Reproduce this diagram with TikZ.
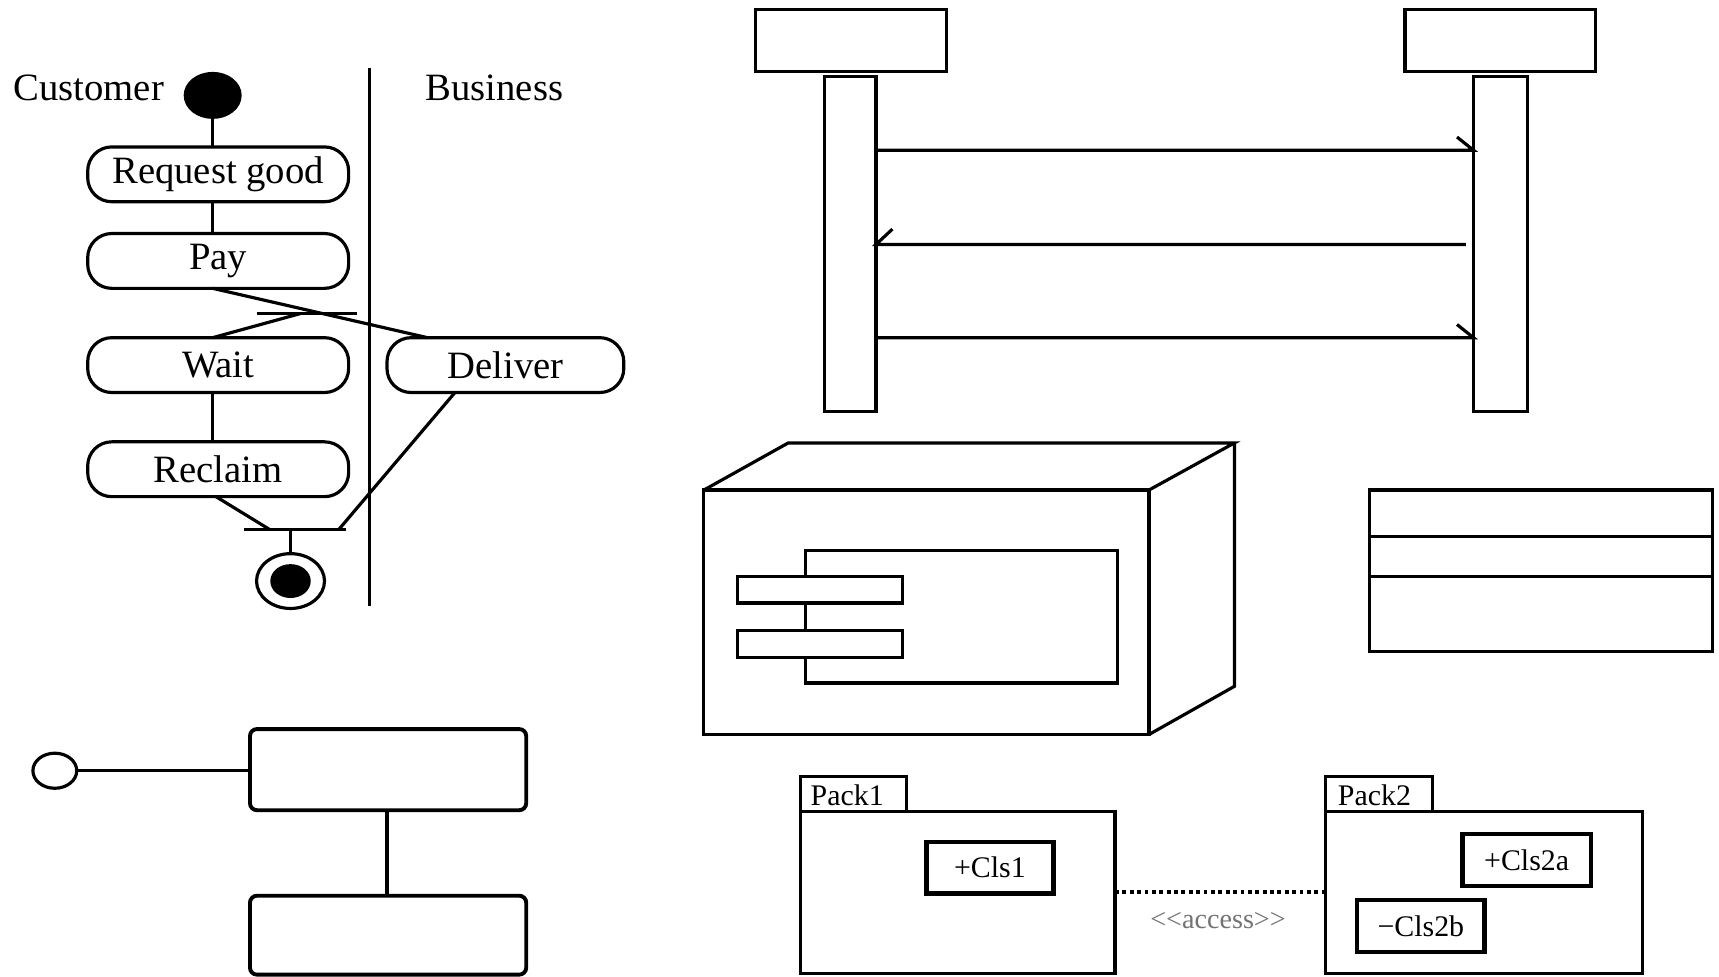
\documentclass[tikz,border=0pt]{standalone}
\usepackage{fontspec}
\setmainfont{Liberation Serif}
\usetikzlibrary{shapes.geometric,calc}
\def\pxu{0.010963cm}
\begin{document}
\begin{tikzpicture}[x=0.010963cm,y=-0.010963cm,line width=0.9pt,
  act/.style={draw,rounded corners=0.24cm,minimum height=50*\pxu,inner sep=0pt,outer sep=0pt,font=\fontsize{11}{12}\selectfont},
  lab/.style={inner sep=0pt,font=\fontsize{11}{12}\selectfont},
  plain/.style={draw,inner sep=0pt,outer sep=0pt},
  rbox/.style={draw,rounded corners=0.07cm,inner sep=0pt,outer sep=0pt,line width=1.1pt},
  small/.style={inner sep=0pt,font=\fontsize{8.5}{9}\selectfont},
  clsbox/.style={draw,inner sep=0pt,outer sep=0pt,line width=1.2pt,minimum width=116*\pxu,minimum height=47*\pxu,font=\fontsize{8.5}{9}\selectfont}]
\useasboundingbox (0,0) rectangle (1568,891);

% ---------------- activity diagram ----------------
\node[lab] (cust) at (81,80) {Customer};
\node[lab] (bus) at (451,80) {Business};
\node[draw,fill=black,ellipse,minimum width=50*\pxu,minimum height=40*\pxu,inner sep=0pt,outer sep=0pt] (start) at (194,87) {};
\node[act,minimum width=238*\pxu] (req) at (199,159) {Request good};
\node[act,minimum width=238*\pxu] (pay) at (199,238) {Pay};
\node[act,minimum width=238*\pxu] (wait) at (199,333) {Wait};
\node[act,minimum width=216*\pxu] (deliver) at (461,333) {Deliver};
\node[act,minimum width=238*\pxu] (reclaim) at (199,428) {Reclaim};
\node[draw,ellipse,minimum width=62*\pxu,minimum height=50*\pxu,inner sep=0pt,outer sep=0pt] (endo) at (265,530) {};
\node[draw,fill=black,ellipse,minimum width=34*\pxu,minimum height=28*\pxu,inner sep=0pt] (endi) at (265,530) {};

\coordinate (laneT) at (337,62);
\coordinate (laneB) at (337,553);
\draw (laneT) -- (laneB);

\coordinate (forkL) at (234,286);
\coordinate (forkR) at (326,286);
\coordinate (forkP) at (274,286);
\coordinate (joinL) at (223,483);
\coordinate (joinR) at (316,483);
\coordinate (joinP) at (265,483);

\draw (start.south) -- (start.south |- req.north);
\draw (req.south -| start) -- (pay.north -| start);
\draw (forkL) -- (forkR);
\draw (pay.south -| start) -- ($(deliver.north west)+(37,0)$);
\draw (wait.north -| start) -- (forkP);
\draw (wait.south -| start) -- (reclaim.north -| start);
\draw (joinL) -- (joinR);
\draw ($(reclaim.south)+(-2,0)$) -- (246,483);
\draw ($(deliver.south west)+(62,0)$) -- (309,483);
\draw (joinP) -- (endo.north);

% ---------------- interface / boxes ----------------
\node[draw,ellipse,minimum width=40*\pxu,minimum height=32*\pxu,inner sep=0pt,outer sep=0pt] (iface) at (50,703) {};
\node[rbox,minimum width=252*\pxu,minimum height=74*\pxu] (boxA) at (354,702) {};
\node[rbox,minimum width=252*\pxu,minimum height=72*\pxu] (boxB) at (354,853) {};
\draw (iface.east) -- (iface.east -| boxA.west);
\draw (boxA.south -| 353,0) -- (boxB.north -| 353,0);

% ---------------- sequence diagram ----------------
\node[plain,minimum width=174*\pxu,minimum height=56*\pxu] (headL) at (776,37) {};
\node[plain,minimum width=174*\pxu,minimum height=56*\pxu] (headR) at (1368.5,37) {};
\node[plain,minimum width=47*\pxu,minimum height=305*\pxu] (barL) at (775.5,222.5) {};
\node[plain,minimum width=49*\pxu,minimum height=305*\pxu] (barR) at (1368.5,222.5) {};
\coordinate (y1) at (0,137);
\coordinate (y2) at (0,223);
\coordinate (y3) at (0,308);
\draw (barL.east |- y1) -- (barR.west |- y1) -- ++(-15,-12);
\draw ($(barR.west |- y2)+(-7,0)$) -- (barL.east |- y2) -- ++(15,-14);
\draw (barL.east |- y3) -- (barR.west |- y3) -- ++(-15,-12);

% ---------------- deployment node ----------------
\node[plain,minimum width=406*\pxu,minimum height=223*\pxu] (front) at (845,558.5) {};
\coordinate (tbl) at (719,404);
\coordinate (tbr) at (1126,404);
\coordinate (rbb) at (1126,626);
\draw (front.north west) -- (tbl) -- (tbr) -- (front.north east);
\draw (tbr) -- (rbb) -- (front.south east);
\node[plain,minimum width=284*\pxu,minimum height=121*\pxu] (comp) at (877,562.5) {};
\node[plain,fill=white,minimum width=150*\pxu,minimum height=24*\pxu] (port1) at (748,538) {};
\node[plain,fill=white,minimum width=150*\pxu,minimum height=25*\pxu] (port2) at (748,587.5) {};

% ---------------- class box ----------------
\node[plain,minimum width=313*\pxu,minimum height=147*\pxu] (cls) at (1405.5,520.5) {};
\coordinate (c1) at (0,489);
\coordinate (c2) at (0,526);
\draw (cls.west |- c1) -- (cls.east |- c1);
\draw (cls.west |- c2) -- (cls.east |- c2);

% ---------------- packages ----------------
\node[plain,minimum width=97*\pxu,minimum height=32*\pxu] (tab1) at (778.5,724) {};
\node[small,anchor=west] (tab1t) at ($(tab1.west)+(8,1)$) {Pack1};
\node[plain,minimum width=287*\pxu,minimum height=148*\pxu] (pk1) at (873.5,814) {};
\node[clsbox] (cls1) at (903,791.5) {+Cls1};
\node[plain,minimum width=98*\pxu,minimum height=32*\pxu] (tab2) at (1258,724) {};
\node[small,anchor=west] (tab2t) at ($(tab2.west)+(10,1)$) {Pack2};
\node[plain,minimum width=289*\pxu,minimum height=148*\pxu] (pk2) at (1353.5,814) {};
\node[clsbox,minimum width=117*\pxu] (cls2a) at (1392.5,784.5) {+Cls2a};
\node[clsbox] (cls2b) at (1296,844.5) {−Cls2b};
\draw[densely dotted,line width=1.1pt] (pk1.east) -- (pk2.west);
\node[small,text=black!55,font=\fontsize{8}{9}\selectfont] (acc) at (1111,840) {\textless\kern0pt\textless\kern0pt access\kern0pt\textgreater\kern0pt\textgreater};
\end{tikzpicture}
\end{document}
